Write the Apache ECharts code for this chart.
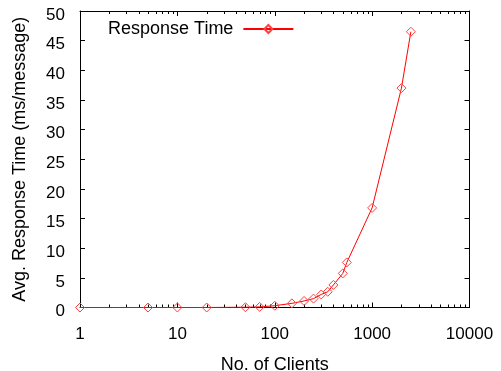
<!DOCTYPE html>
<html><head><meta charset="utf-8">
<script src="https://cdn.jsdelivr.net/npm/echarts@6/dist/echarts.min.js"></script>
<style>html,body{margin:0;padding:0;background:#fff}#c{width:501px;height:371px}</style>
</head><body><div id="c"></div>
<script>
const clients = [1, 5, 10, 20, 50, 70, 100, 150, 200, 250, 300, 350, 400, 500, 550, 1000, 2000, 2500];
const responseTime = [0, 0, 0, 0, 0.05, 0.1, 0.3, 0.7, 1.1, 1.5, 2.2, 2.65, 3.8, 5.75, 7.6, 16.8, 37.0, 46.5];
const minorTicks = [2, 3, 4, 5, 6, 7, 8, 9, 20, 30, 40, 50, 60, 70, 80, 90, 200, 300, 400, 500, 600, 700, 800, 900, 2000, 3000, 4000, 5000, 6000, 7000, 8000, 9000];
const seriesName = 'Response Time';
const xTitle = 'No. of Clients';
const yTitle = 'Avg. Response Time (ms/message)';

const FONT = "'Liberation Sans', Arial, sans-serif";
const chart = echarts.init(document.getElementById('c'), null, {renderer: 'canvas'});
const lineCol = '#000';
const xCommon = {
  type: 'log', logBase: 10, min: 1, max: 10000,
  axisLine: {show: true, onZero: false, lineStyle: {color: lineCol, width: 1}},
  axisTick: {show: true, inside: true, length: 5, lineStyle: {color: lineCol}},
  splitLine: {show: false}
};
const yCommon = {
  type: 'value', min: 0, max: 50, interval: 5,
  axisLine: {show: true, onZero: false, lineStyle: {color: lineCol, width: 1}},
  axisTick: {show: true, inside: true, length: 5, lineStyle: {color: lineCol}},
  splitLine: {show: false}
};
chart.setOption({
  animation: false,
  backgroundColor: '#fff',
  textStyle: {fontFamily: FONT},
  grid: {left: 80, right: 31.5, top: 11, bottom: 63.5, outerBoundsMode: 'none', containLabel: false},
  legend: {
    data: [seriesName], left: 103, top: 15, align: 'right',
    itemWidth: 50, itemHeight: 10,
    textStyle: {fontFamily: FONT, fontSize: 18, color: '#000', verticalAlign: 'top', lineHeight: 9, padding: [0, 5, 0, 0]}
  },
  xAxis: [
    Object.assign({}, xCommon, {
      position: 'bottom',
      name: xTitle, nameLocation: 'middle', nameGap: 49,
      nameTextStyle: {fontFamily: FONT, fontSize: 18, color: '#000'},
      axisLabel: {fontFamily: FONT, fontSize: 17, color: '#000', margin: 18,
        formatter: v => String(Math.round(v))}
    }),
    Object.assign({}, xCommon, {position: 'top', axisLabel: {show: false}})
  ],
  yAxis: [
    Object.assign({}, yCommon, {
      position: 'left',
      name: yTitle, nameLocation: 'middle', nameGap: 51, nameRotate: 90,
      nameTextStyle: {fontFamily: FONT, fontSize: 18, color: '#000'},
      axisLabel: {fontFamily: FONT, fontSize: 17, color: '#000', margin: 15, verticalAlign: 'top', lineHeight: 8}
    }),
    Object.assign({}, yCommon, {position: 'right', axisLabel: {show: false}})
  ],
  series: [
    {
      name: seriesName, type: 'line', xAxisIndex: 0, yAxisIndex: 0,
      data: clients.map((c, i) => [c, responseTime[i]]),
      symbol: 'diamond', symbolSize: [9, 9],
      lineStyle: {color: '#ff0000', width: 1},
      itemStyle: {color: 'rgba(255,255,255,0)', borderColor: '#ff4040', borderWidth: 1},
      z: 3
    },
    {
      type: 'custom', xAxisIndex: 0, yAxisIndex: 0, silent: true,
      data: minorTicks.map(v => [v, 0]),
      renderItem: function (params, api) {
        const x = Math.round(api.coord([api.value(0), 0])[0]) + 0.5;
        const cs = params.coordSys;
        const b = cs.y + cs.height;
        return {type: 'group', children: [
          {type: 'line', shape: {x1: x, y1: b, x2: x, y2: b - 3}, style: {stroke: '#000', lineWidth: 1}},
          {type: 'line', shape: {x1: x, y1: cs.y, x2: x, y2: cs.y + 3}, style: {stroke: '#000', lineWidth: 1}}
        ]};
      }
    }
  ]
});
</script></body></html>
